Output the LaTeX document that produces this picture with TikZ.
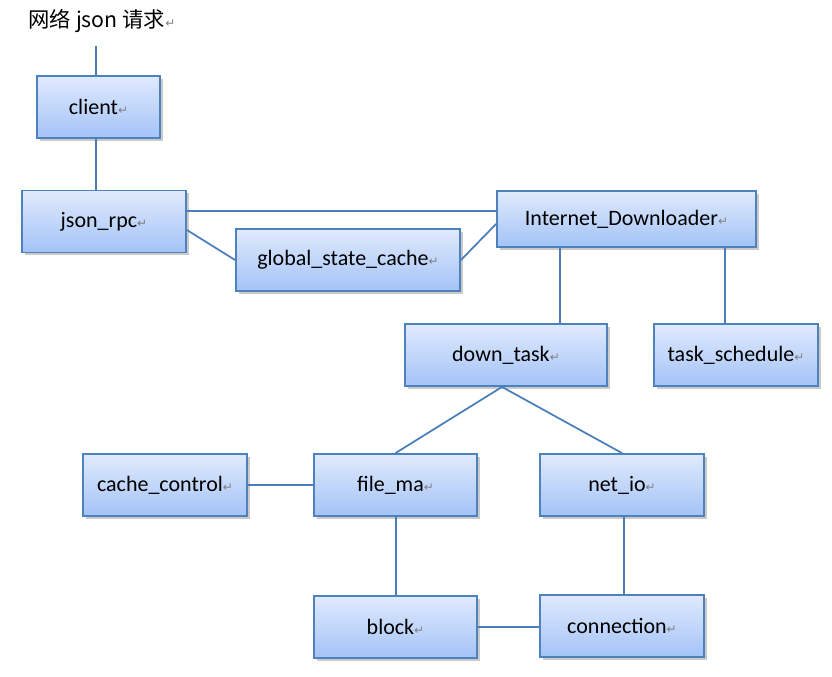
\documentclass[tikz,border=0pt]{standalone}
\usepackage{fontspec}
\setmainfont{Carlito}
\newfontfamily\cjk{Noto Sans CJK SC}
\newfontfamily\symfont{DejaVu Sans}
\usetikzlibrary{shadows}

\definecolor{boxline}{HTML}{4F81BD}
\definecolor{boxtop}{HTML}{E0EAFC}
\definecolor{boxbot}{HTML}{A3C3F8}
\definecolor{wire}{HTML}{4A7EBB}

% paragraph mark after every label
\newcommand{\pmark}{{\symfont\fontsize{9pt}{9pt}\selectfont\color{gray}\char"21B5}}

\tikzset{
  module/.style={draw=boxline, line width=1.4pt, top color=boxtop, bottom color=boxbot,
    font=\fontsize{16.5pt}{18pt}\selectfont, minimum height=62*\px, inner xsep=2pt,
    drop shadow={shadow xshift=2pt, shadow yshift=-2pt, opacity=0.35, fill=black!60}},
  link/.style={wire, line width=1.3pt}
}

\begin{document}
\begin{tikzpicture}[x=0.75pt, y=-0.75pt]
% one pixel of the reference
\def\px{0.75pt}
\useasboundingbox (0,0) rectangle (832,676);

% Title and its line
\node[font=\cjk\fontsize{16pt}{18pt}\selectfont] (title) at (102,21) {网络 json 请求\pmark};
\coordinate (top) at (96,46);

% The modules
\node[module, minimum width=123*\px] (client) at (98.5,107) {client\pmark};
\node[module, minimum width=164*\px] (json) at (104,221.5) {json\_rpc\pmark};
\node[module, minimum width=224*\px] (gsc) at (348,260) {global\_state\_cache\pmark};
\node[module, minimum width=259*\px, minimum height=56*\px] (idl) at (626.5,219) {Internet\_Downloader\pmark};
\node[module, minimum width=202*\px] (down) at (506,355) {down\_task\pmark};
\node[module, minimum width=164*\px] (sched) at (736,355) {task\_schedule\pmark};
\node[module, minimum width=164*\px] (cctl) at (165,485) {cache\_control\pmark};
\node[module, minimum width=163*\px] (filema) at (395.5,485) {file\_ma\pmark};
\node[module, minimum width=164*\px] (netio) at (622,485) {net\_io\pmark};
\node[module, minimum width=163*\px] (block) at (395.5,627) {block\pmark};
\node[module, minimum width=164*\px] (conn) at (622,626) {connection\pmark};

% Connect them
\draw[link] (top) -- (top |- client.north);
\draw[link] ([xshift=-2.5*\px]client.south) -- ([xshift=-2.5*\px]client.south |- json.north);
\draw[link] ([yshift=10.5*\px]json.east) -- ([yshift=10.5*\px]json.east -| idl.west);
\draw[link] ([yshift=-8.5*\px]json.east) -- (gsc.west);
\draw[link] (gsc.east) -- ([yshift=-5*\px]idl.west);
\draw[link] ([xshift=-66.5*\px]idl.south) -- ([xshift=-66.5*\px]idl.south |- down.north);
\draw[link] ([xshift=98.5*\px]idl.south) -- ([xshift=98.5*\px]idl.south |- sched.north);
\draw[link] ([xshift=-4*\px]down.south) -- (filema.north);
\draw[link] ([xshift=-4*\px]down.south) -- (netio.north);
\draw[link] (cctl.east) -- (filema.west);
\draw[link] ([xshift=0.5*\px]filema.south) -- ([xshift=0.5*\px]filema.south |- block.north);
\draw[link] ([xshift=2*\px]netio.south) -- ([xshift=2*\px]netio.south |- conn.north);
\draw[link] (block.east) -- (block.east -| conn.west);

\end{tikzpicture}
\end{document}
